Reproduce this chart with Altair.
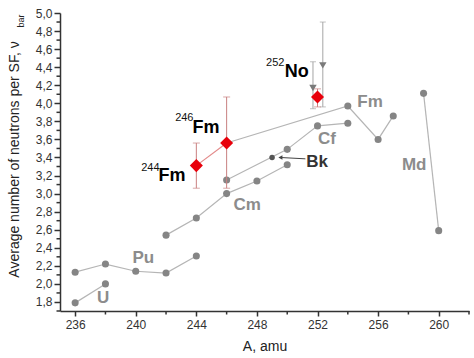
import altair as alt
import pandas as pd

# ---- data ----
U_A = [236, 238]
U_nu = [1.79, 2.00]
Pu_A = [236, 238, 240, 242, 244]
Pu_nu = [2.13, 2.22, 2.14, 2.12, 2.31]
Cm_A = [242, 244, 246, 248, 250]
Cm_nu = [2.54, 2.73, 3.00, 3.14, 3.32]
Cf_A = [246, 250, 252, 254]
Cf_nu = [3.15, 3.49, 3.75, 3.78]
Fm_A = [246, 254, 256, 257]
Fm_nu = [3.56, 3.97, 3.60, 3.86]
Md_A = [259, 260]
Md_nu = [4.11, 2.59]
Bk_A = [249]
Bk_nu = [3.40]

# red (new) results
red_A = [244, 246, 252]
red_nu = [3.31, 3.56, 4.07]
red_lo = [3.06, 3.06, 3.96]
red_hi = [3.56, 4.07, 4.16]
red_group = ["Fm", "Fm", "No"]

# grey literature values for 252No (triangles)
no_A = [251.7, 252.35]
no_nu = [4.17, 4.42]
no_lo = [3.94, 3.96]
no_hi = [4.46, 4.90]

# labels
grey_labels = ["U", "Pu", "Cm", "Cf", "Fm", "Md"]
grey_lab_A = [237.85, 240.5, 247.35, 252.63, 255.47, 258.38]
grey_lab_nu = [1.84, 2.29, 2.87, 3.60, 4.01, 3.32]
bk_label_A = [251.97]
bk_label_nu = [3.35]
arrow_A = [251.2, 249.55]
arrow_nu = [3.385, 3.40]

sup_text = ["244", "246", "252"]
sup_A = [240.36, 242.6, 248.6]
sup_nu = [3.28, 3.84, 4.45]
main_text = ["Fm", "Fm", "No"]
main_A = [241.5, 243.75, 249.83]
main_nu = [3.195, 3.73, 4.35]

x_major = [236, 240, 244, 248, 252, 256, 260]
x_minor = [238, 242, 246, 250, 254, 258, 262]
y_major = [1.8, 2.0, 2.2, 2.4, 2.6, 2.8, 3.0, 3.2, 3.4, 3.6, 3.8, 4.0,
           4.2, 4.4, 4.6, 4.8, 5.0]
y_minor = [1.7, 1.9, 2.1, 2.3, 2.5, 2.7, 2.9, 3.1, 3.3, 3.5, 3.7, 3.9,
           4.1, 4.3, 4.5, 4.7, 4.9]

FONT = "Liberation Sans"
GREY_PT = "#858585"
GREY_LINE = "#b5b5b5"
GREY_TXT = "#8c8c8c"

rows = []
for name, xs, ys in [("U", U_A, U_nu), ("Pu", Pu_A, Pu_nu), ("Cm", Cm_A, Cm_nu),
                     ("Cf", Cf_A, Cf_nu), ("Fm", Fm_A, Fm_nu), ("Md", Md_A, Md_nu)]:
    for a, v in zip(xs, ys):
        rows.append({"A": a, "nu": v, "series": name})
grey_df = pd.DataFrame(rows)

bk_df = pd.DataFrame({"A": Bk_A, "nu": Bk_nu})
red_df = pd.DataFrame({"A": red_A, "nu": red_nu, "lo": red_lo, "hi": red_hi,
                       "g": red_group})
no_df = pd.DataFrame({"A": no_A, "nu": no_nu, "lo": no_lo, "hi": no_hi})
gl_df = pd.DataFrame({"t": grey_labels, "A": grey_lab_A, "nu": grey_lab_nu})
bkl_df = pd.DataFrame({"t": ["Bk"], "A": bk_label_A, "nu": bk_label_nu})
arrow_df = pd.DataFrame({"A": arrow_A, "nu": arrow_nu, "o": [0, 1]})
sup_df = pd.DataFrame({"t": sup_text, "A": sup_A, "nu": sup_nu})
main_df = pd.DataFrame({"t": main_text, "A": main_A, "nu": main_nu})
xmin_df = pd.DataFrame({"A": x_minor})
ymin_df = pd.DataFrame({"nu": y_minor})

xs = alt.Scale(domain=[235, 262], nice=False, zero=False)
ys = alt.Scale(domain=[1.7, 5.0], nice=False, zero=False)

XAXIS = alt.Axis(
    values=x_major, title="A, amu", format="d", grid=False, labelOverlap=False,
    domainColor="#333", domainWidth=1.5, tickColor="#333", tickWidth=1.5,
    tickSize=5, labelFont=FONT, labelFontSize=12, labelColor="#333",
    labelPadding=3, titleFont=FONT, titleFontSize=14, titleFontWeight="normal",
    titleColor="#222", titlePadding=9)
YAXIS = alt.Axis(
    values=y_major, title="Average number of neutrons per SF, \u03bd",
    labelExpr="replace(format(datum.value, '.1f'), '.', ',')", grid=False,
    labelOverlap=False, labelBound=False, labelFlush=False,
    domainColor="#333", domainWidth=1.5, tickColor="#333", tickWidth=1.5,
    tickSize=6, labelFont=FONT, labelFontSize=12, labelColor="#333",
    labelPadding=2, titleFont=FONT, titleFontSize=14, titleFontWeight="normal",
    titleColor="#222", titleX=-46, titleY=146, titleAlign="center",
    titleBaseline="middle", titleAngle=270)

bx = alt.X("A:Q", scale=xs, axis=XAXIS)
by = alt.Y("nu:Q", scale=ys, axis=YAXIS)


def yf(field):
    return alt.Y(field, scale=ys, axis=YAXIS)


lines = alt.Chart(grey_df).mark_line(color=GREY_LINE, strokeWidth=1.2).encode(
    x=bx, y=by, detail="series:N", order="A:Q")
pts = alt.Chart(grey_df).mark_circle(color=GREY_PT, size=50, opacity=1).encode(
    x=bx, y=by)
bk_pt = alt.Chart(bk_df).mark_circle(color="#555555", size=30, opacity=1).encode(
    x=bx, y=by)

arrow_line = alt.Chart(arrow_df).mark_line(color="#444", strokeWidth=1).encode(
    x=bx, y=by, order="o:Q")
arrow_head = alt.Chart(arrow_df[arrow_df.o == 1]).mark_point(
    shape="triangle-left", filled=True, color="#444", size=22, opacity=1).encode(
    x=bx, y=by)

no_bars = alt.Chart(no_df).mark_rule(color="#a5a5a5", strokeWidth=1).encode(
    x=bx, y=yf("lo:Q"), y2="hi:Q")
no_caps = alt.Chart(no_df).mark_tick(color="#a5a5a5", orient="horizontal",
                                     size=6, thickness=1).encode(
    x=bx, y=yf("hi:Q"))
no_caps2 = alt.Chart(no_df).mark_tick(color="#a5a5a5", orient="horizontal",
                                      size=6, thickness=1).encode(
    x=bx, y=yf("lo:Q"))
no_tri = alt.Chart(no_df).mark_point(shape="triangle-down", filled=True,
                                     color="#7a7a7a", size=55, opacity=1).encode(
    x=bx, y=by)

red_line = alt.Chart(red_df[red_df.g == "Fm"]).mark_line(
    color="#e38a8a", strokeWidth=1.2).encode(x=bx, y=by)
red_bars = alt.Chart(red_df).mark_rule(color="#c98080", strokeWidth=1).encode(
    x=bx, y=yf("lo:Q"), y2="hi:Q")
red_caps_hi = alt.Chart(red_df).mark_tick(color="#c98080", orient="horizontal",
                                          size=7, thickness=1).encode(
    x=bx, y=yf("hi:Q"))
red_caps_lo = alt.Chart(red_df).mark_tick(color="#c98080", orient="horizontal",
                                          size=7, thickness=1).encode(
    x=bx, y=yf("lo:Q"))
red_pts = alt.Chart(red_df).mark_point(shape="diamond", filled=True,
                                       color="#e8000b", size=170, opacity=1).encode(
    x=bx, y=by)

grey_txt = alt.Chart(gl_df).mark_text(font=FONT, fontSize=17, fontWeight="bold",
                                      color=GREY_TXT, align="center",
                                      baseline="middle").encode(
    x=bx, y=by, text="t:N")
bk_txt = alt.Chart(bkl_df).mark_text(font=FONT, fontSize=17, fontWeight="bold",
                                     color="#333", align="center",
                                     baseline="middle").encode(
    x=bx, y=by, text="t:N")
sup_txt = alt.Chart(sup_df).mark_text(font=FONT, fontSize=11, color="#111",
                                      align="left", baseline="middle").encode(
    x=bx, y=by, text="t:N")
main_txt = alt.Chart(main_df).mark_text(font=FONT, fontSize=18, fontWeight="bold",
                                        color="#000", align="left",
                                        baseline="middle").encode(
    x=bx, y=by, text="t:N")

xminor = alt.Chart(xmin_df).mark_rule(color="#333", strokeWidth=1.5).encode(
    x=bx, y=alt.value(298), y2=alt.value(301.5))
yminor = alt.Chart(ymin_df).mark_rule(color="#333", strokeWidth=1.5).encode(
    y=by, x=alt.value(0), x2=alt.value(-3.5))

sub = alt.Chart(pd.DataFrame({"t": ["bar"]})).mark_text(
    font=FONT, fontSize=9, color="#222", angle=270, align="center",
    baseline="middle").encode(text="t:N", x=alt.value(-39), y=alt.value(8))

chart = alt.layer(
    lines, arrow_line, arrow_head, no_bars, no_caps, no_caps2, pts, bk_pt,
    no_tri, red_line, red_bars, red_caps_hi, red_caps_lo, red_pts,
    grey_txt, bk_txt, sup_txt, main_txt, xminor, yminor, sub
).properties(
    width=409, height=298,
    autosize=alt.AutoSizeParams(type="none"),
    padding={"left": 60, "top": 13, "right": 5, "bottom": 47},
    background="white"
).configure_view(stroke=None)

chart.save("out.html", embed_options={"renderer": "svg", "actions": False})
